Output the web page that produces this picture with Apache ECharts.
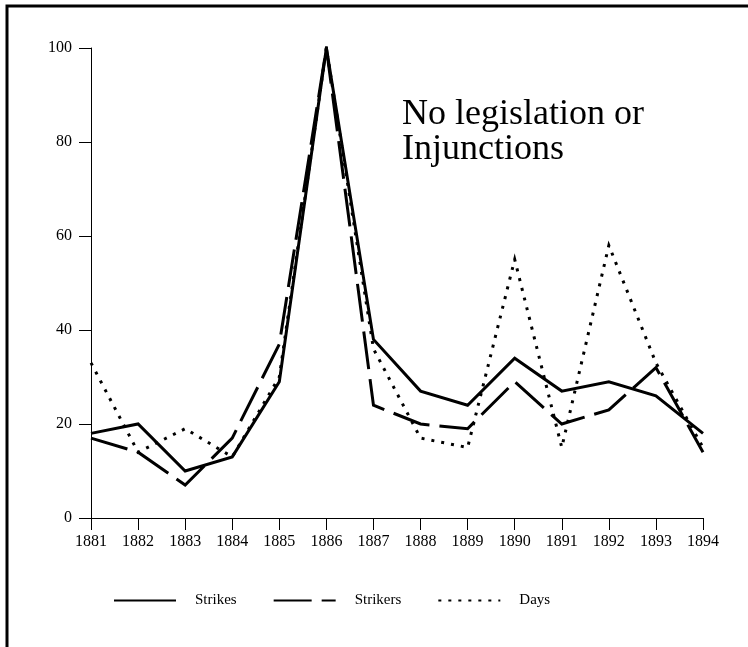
<!DOCTYPE html>
<html>
<head>
<meta charset="utf-8">
<script src="https://cdn.jsdelivr.net/npm/echarts@6/dist/echarts.min.js"></script>
<style>
  html, body { margin: 0; padding: 0; background: #fff; }
  #chart { width: 748px; height: 647px; }
</style>
</head>
<body>
<div id="chart"></div>
<script>
// data
var years = ["1881", "1882", "1883", "1884", "1885", "1886", "1887",
  "1888", "1889", "1890", "1891", "1892", "1893", "1894"];
var strikes = [18, 20, 10, 13, 29, 100, 38, 27, 24, 34, 27, 29, 26, 18];
var strikers = [17, 14, 7, 17, 37, 100, 24, 20, 19, 29, 20, 23, 32, 14];
var days = [33, 14, 19, 13, 30, 100, 36, 17, 15, 55, 15, 58, 33, 15];
var yTicks = [0, 20, 40, 60, 80, 100];

var serif = "'Liberation Serif', 'Times New Roman', serif";

var chart = echarts.init(document.getElementById("chart"));

function lineSeries(name, data, type) {
  return {
    name: name,
    type: "line",
    symbol: "none",
    data: data,
    lineStyle: { color: "#000", width: 3, type: type, cap: "butt", join: "miter" },
    itemStyle: { color: "#000" },
    emphasis: { disabled: true },
  };
}

chart.setOption({
  animation: false,
  textStyle: { fontFamily: serif },
  grid: {
    left: 91,
    right: 45,
    top: 48,
    bottom: 129,
  },
  legend: {
    left: 108,
    top: 588,
    itemWidth: 62,
    itemHeight: 14,
    itemGap: 36,
    itemStyle: { opacity: 0 },
    textStyle: {
      fontFamily: serif,
      fontSize: 15,
      color: "#000",
      padding: [0, 0, 0, 14],
    },
    data: ["Strikes", "Strikers", "Days"],
  },
  xAxis: {
    type: "category",
    boundaryGap: false,
    data: years,
    axisLine: { lineStyle: { color: "#000", width: 1 } },
    axisTick: { length: 12, lineStyle: { color: "#000" }, interval: 0 },
    axisLabel: { color: "#000", fontSize: 16, fontFamily: serif, margin: 16, interval: 0 },
    splitLine: { show: false },
  },
  yAxis: {
    type: "value",
    min: yTicks[0],
    max: yTicks[yTicks.length - 1],
    interval: 20,
    axisLine: { show: true, lineStyle: { color: "#000", width: 1 } },
    axisTick: { show: true, length: 12, lineStyle: { color: "#000" } },
    axisLabel: { color: "#000", fontSize: 16, fontFamily: serif, margin: 19 },
    splitLine: { show: false },
  },
  graphic: [
    {
      type: "rect",
      silent: true,
      shape: { x: 7, y: 6, width: 900, height: 900 },
      style: { fill: "none", stroke: "#000", lineWidth: 3 },
    },
    {
      type: "text",
      left: 402,
      top: 97,
      style: {
        text: "No legislation or\nInjunctions",
        font: "36px " + serif,
        lineHeight: 35,
        fill: "#000",
      },
    },
  ],
  series: [
    lineSeries("Strikes", strikes, "solid"),
    lineSeries("Strikers", strikers, [38, 10]),
    lineSeries("Days", days, [3, 7]),
  ],
});
</script>
</body>
</html>
